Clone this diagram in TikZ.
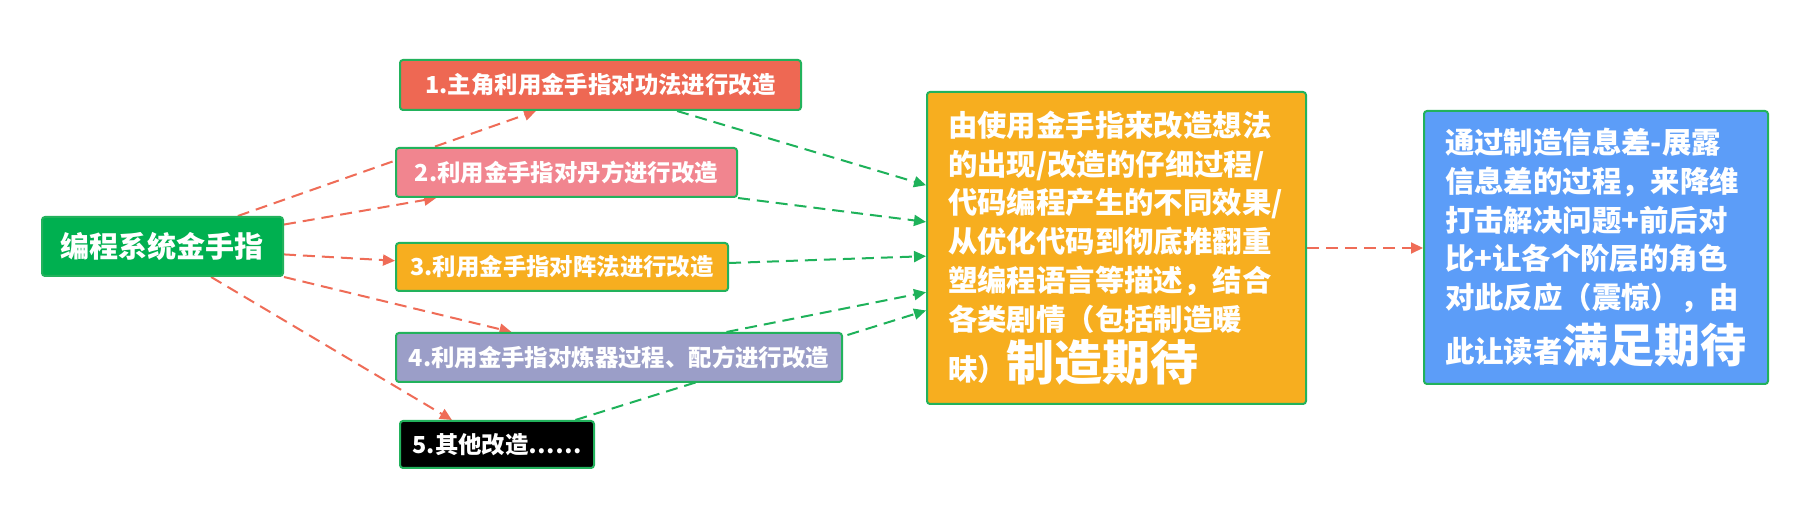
\documentclass[tikz,border=0pt]{standalone}
\usepackage{fontspec}
\setmainfont{Noto Sans CJK SC}
\usetikzlibrary{calc}
\usetikzlibrary{arrows.meta}
\usetikzlibrary{backgrounds}
\definecolor{rootgreen}{HTML}{00B050}
\definecolor{edgegreen}{HTML}{22B25C}
\definecolor{redbox}{HTML}{EE6853}
\definecolor{pinkbox}{HTML}{F1858F}
\definecolor{orangebox}{HTML}{F7AE1F}
\definecolor{lilacbox}{HTML}{9B9EC8}
\definecolor{bluebox}{HTML}{5C9DF8}
\definecolor{redline}{HTML}{EF6C57}
\definecolor{greenline}{HTML}{1EB25A}
\tikzset{
  box/.style={draw=edgegreen, line width=1pt, rounded corners=1.5pt, text=white,
    inner sep=0pt, font=\fontsize{11.7pt}{14pt}\selectfont\bfseries},
  bigbox/.style={box, align=left, inner xsep=10.5pt,
    font=\fontsize{14.7pt}{19.4pt}\selectfont\bfseries},
  reddash/.style={redline, line width=1pt, dash pattern=on 6pt off 3.5pt,
    -{Triangle[length=6pt,width=5.5pt]}},
  greendash/.style={greenline, line width=1pt, dash pattern=on 6pt off 3.5pt,
    -{Triangle[length=6pt,width=5.5pt]}}
}

\begin{document}
\begin{tikzpicture}[x=0.5pt,y=-0.5pt]
\useasboundingbox (0,0) rectangle (1799,528);
\node[box, fill=rootgreen, minimum width=120.5pt, minimum height=29.5pt,
  font=\fontsize{14.5pt}{17pt}\selectfont\bfseries] (root) at (162.5,246.5) {编程系统金手指};
\node[box, fill=redbox, minimum width=200.5pt, minimum height=25pt] (b1) at (600.5,85) {1.主角利用金手指对功法进行改造};
\node[box, fill=pinkbox, minimum width=170.5pt, minimum height=24.5pt] (b2) at (566.5,172.5) {2.利用金手指对丹方进行改造};
\node[box, fill=orangebox, minimum width=166pt, minimum height=24pt] (b3) at (562,267) {3.利用金手指对阵法进行改造};
\node[box, fill=lilacbox, minimum width=223pt, minimum height=24.5pt] (b4) at (619,357.5) {4.利用金手指对炼器过程、配方进行改造};
\node[box, fill=black, minimum width=97pt, minimum height=23.5pt] (b5) at (497,444.5) {5.其他改造……};
\node[bigbox, fill=orangebox, minimum width=189.5pt, minimum height=156pt, text width=168.5pt] (mid) at (1116.5,248)
  {由使用金手指来改造想法\\的出现/改造的仔细过程/\\代码编程产生的不同效果/\\从优化代码到彻底推翻重\\塑编程语言等描述，结合\\各类剧情（包括制造暖\\[2pt]昧）{\fontsize{24pt}{28pt}\selectfont 制造期待}};
\node[bigbox, fill=bluebox, minimum width=172pt, minimum height=136.5pt, text width=151pt] (goal) at (1596,247.5)
  {通过制造信息差-展露\\信息差的过程，来降维\\打击解决问题+前后对\\比+让各个阶层的角色\\对此反应（震惊），由\\[4pt]此让读者{\fontsize{23pt}{27pt}\selectfont 满足期待}};
\begin{scope}[on background layer]
\fill[white] (0,0) rectangle (1799,528);
\draw[reddash] ($(root.north west)!0.81!(root.north east)$) -- ($(b1.south west)!0.34!(b1.south east)$);
\draw[reddash] ($(root.north east)!0.14!(root.south east)$) -- ($(b2.south west)!0.12!(b2.south east)$);
\draw[reddash] ($(root.north east)!0.63!(root.south east)$) -- ($(b3.north west)!0.375!(b3.south west)$);
\draw[reddash] (root.south east) -- ($(b4.north west)!0.26!(b4.north east)$);
\draw[reddash] ($(root.south west)!0.70!(root.south east)$) -- ($(b5.north west)!0.27!(b5.north east)$);
\draw[greendash] ($(b1.south west)!0.69!(b1.south east)$) -- ($(mid.north west)!0.30!(mid.south west)$);
\draw[greendash] (b2.south east) -- ($(mid.north west)!0.417!(mid.south west)$);
\draw[greendash] ($(b3.north east)!0.42!(b3.south east)$) -- ($(mid.north west)!0.526!(mid.south west)$);
\draw[greendash] ($(b4.north west)!0.74!(b4.north east)$) -- ($(mid.north west)!0.641!(mid.south west)$);
\draw[greendash] ($(b5.north west)!0.90!(b5.north east)$) -- ($(mid.north west)!0.699!(mid.south west)$);
\draw[reddash] (mid.east) -- (mid.east -| goal.west);
\end{scope}
\end{tikzpicture}
\end{document}
